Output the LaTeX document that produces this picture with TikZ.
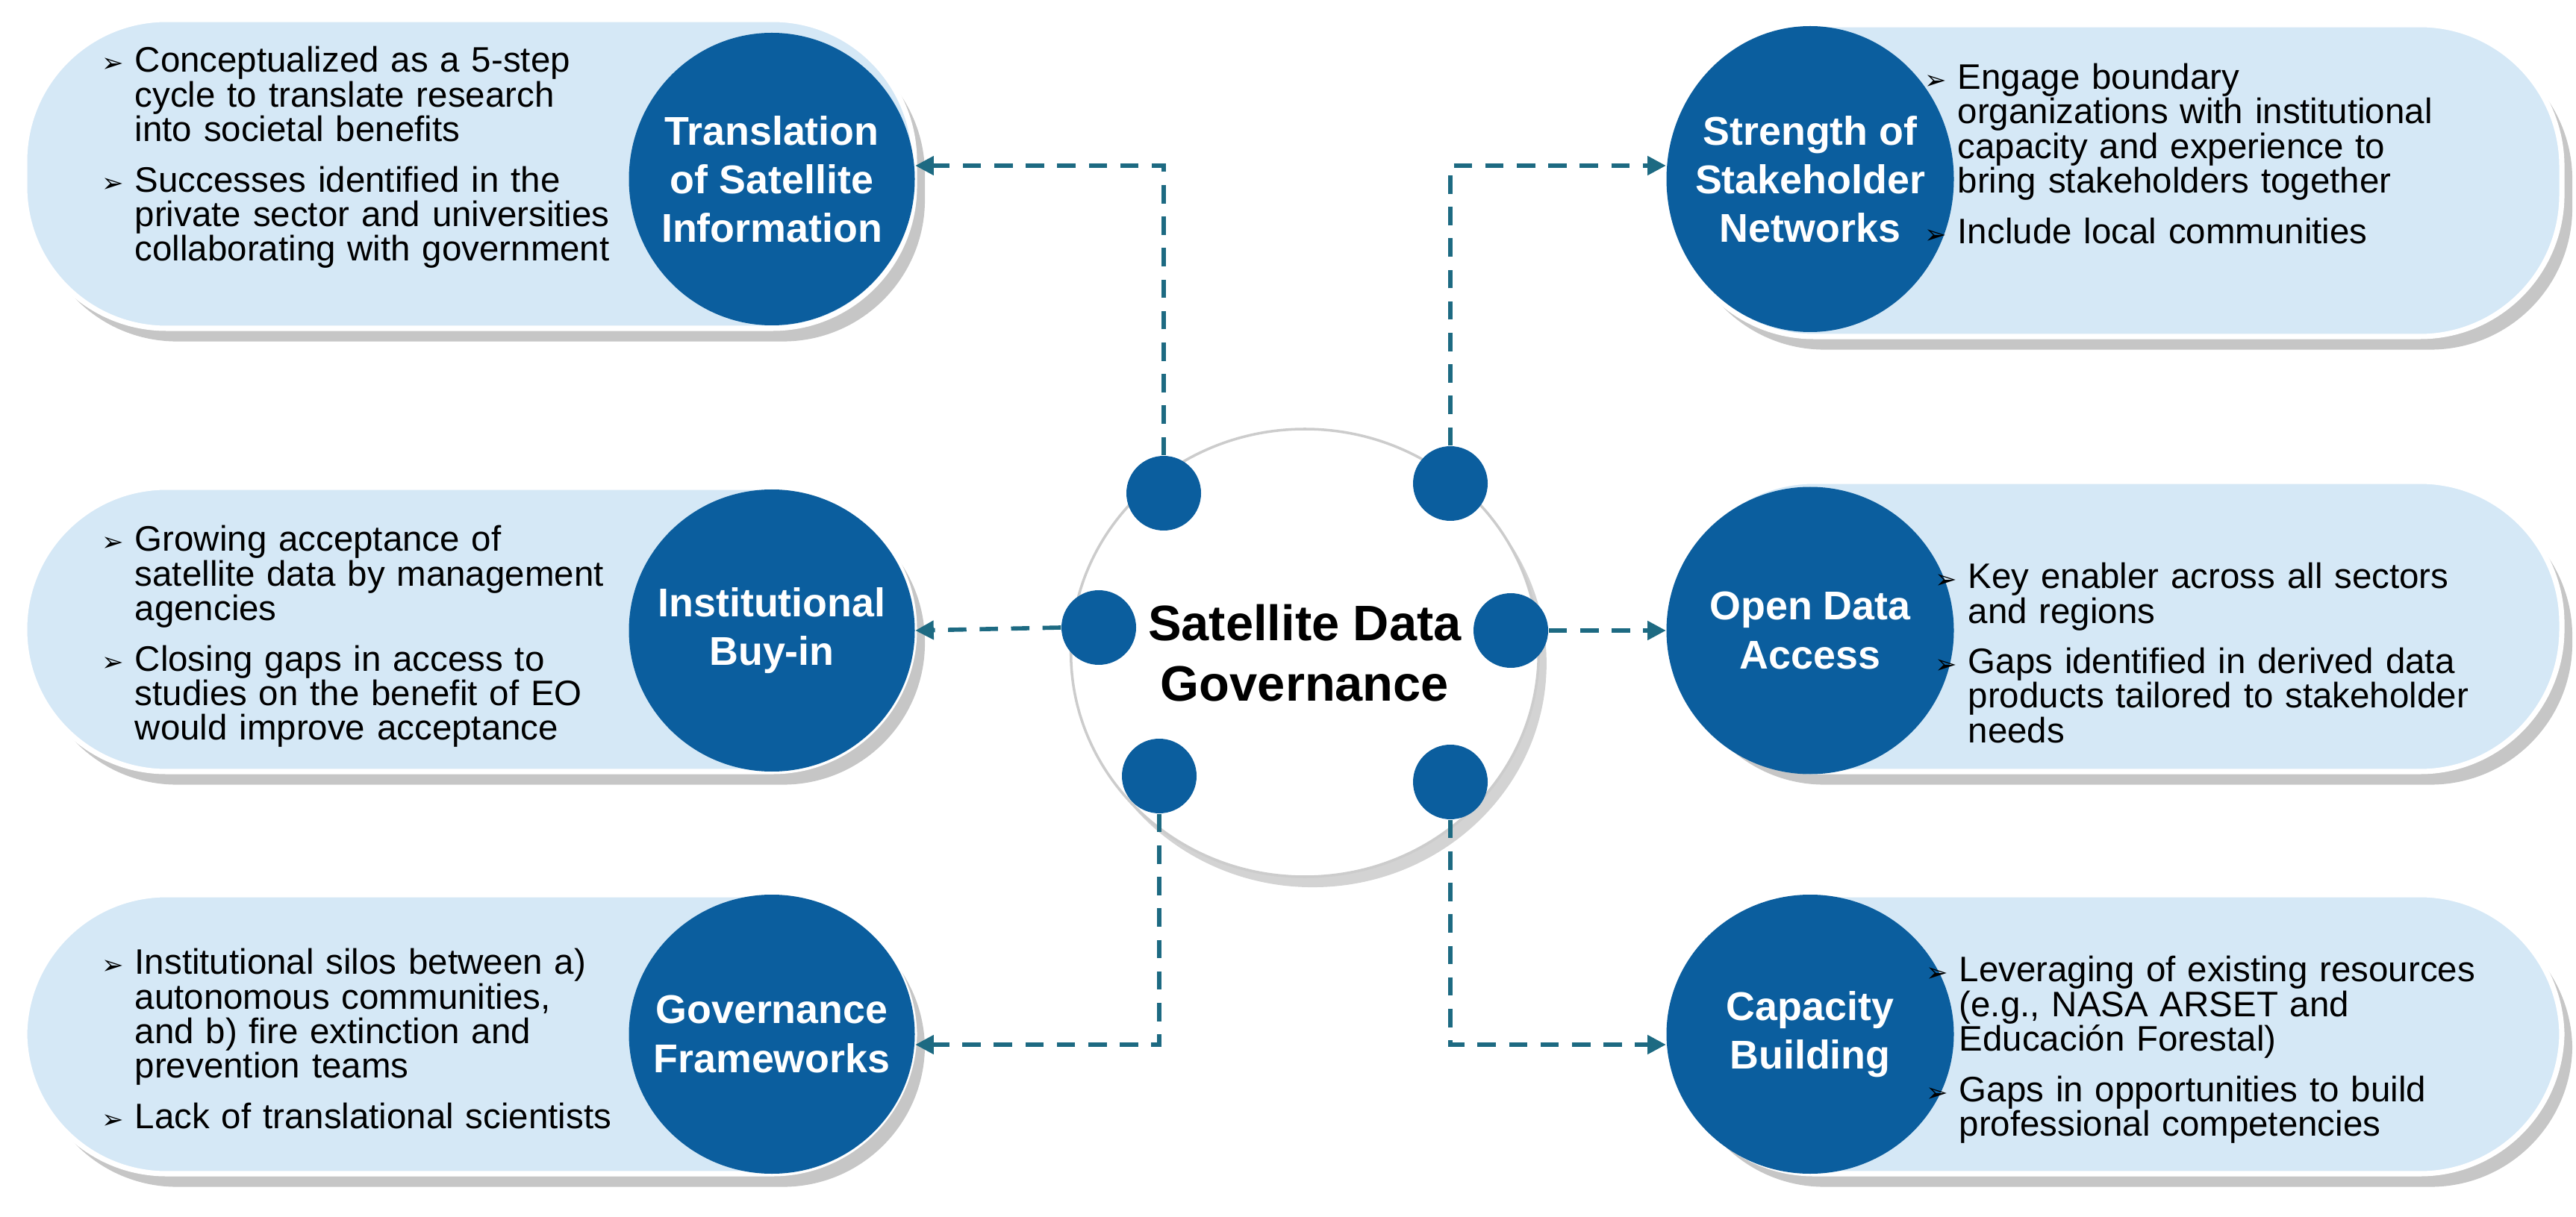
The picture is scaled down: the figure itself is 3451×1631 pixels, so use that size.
\documentclass[tikz,border=0pt]{standalone}
\usepackage{fontspec}
\setmainfont{Liberation Sans}
\newfontfamily\djv{DejaVu Sans}
\usetikzlibrary{shadows,arrows.meta,shapes.geometric}
\definecolor{dblue}{HTML}{0B5E9E}
\definecolor{pill}{HTML}{D5E8F6}
\definecolor{conn}{HTML}{1D6A82}
\newcommand{\bul}[1]{\par\noindent\hangindent=0.44cm\hangafter=1\makebox[0.44cm][l]{\djv\normalsize ➢}#1\par}
\tikzset{
 pillbox/.style={draw=white,line width=2pt,fill=pill,rounded corners=190*0.01cm,drop shadow={shadow xshift=4pt,shadow yshift=-5pt,opacity=.45}},
 dcirc/.style={ellipse,fill=dblue,inner sep=0pt},
 dtitle/.style={text=white,font=\bfseries\fontsize{15.3}{18.5}\selectfont,align=center},
 dot/.style={circle,fill=dblue,minimum size=100*0.01cm,inner sep=0pt},
 body/.style={anchor=west,text width=8cm,font=\fontsize{13.5}{13.2}\selectfont,inner sep=0pt},
 conn/.style={draw=conn,line width=1.6pt,dashed,dash pattern=on 7pt off 5pt,-{Triangle[length=7pt,width=7pt]}}
}
\begin{document}
\begin{tikzpicture}[x=0.01cm,y=-0.01cm]
\useasboundingbox (0,0) rectangle (3451,1631);
% pills
\draw[pillbox] (33,26) rectangle (1225,440);
\draw[pillbox] (33,653) rectangle (1225,1034);
\draw[pillbox] (33,1199) rectangle (1225,1573);
\draw[pillbox] (2240,33) rectangle (3432,451);
\draw[pillbox] (2240,645) rectangle (3432,1034);
\draw[pillbox] (2240,1199) rectangle (3432,1573);
% dark circles
\node[dcirc,minimum width=383*0.01cm,minimum height=392*0.01cm] (c1) at (1034,240) {};
\node[dcirc,minimum width=383*0.01cm,minimum height=378*0.01cm] (c2) at (1034,845) {};
\node[dcirc,minimum width=383*0.01cm,minimum height=374*0.01cm] (c3) at (1034,1386) {};
\node[dcirc,minimum width=385*0.01cm,minimum height=410*0.01cm] (c4) at (2425,240) {};
\node[dcirc,minimum width=385*0.01cm,minimum height=385*0.01cm] (c5) at (2425,845) {};
\node[dcirc,minimum width=385*0.01cm,minimum height=374*0.01cm] (c6) at (2425,1386) {};
\node[dtitle] (l1) at (c1) {Translation\\of Satellite\\Information};
\node[dtitle] (l2) at (c2) {Institutional\\Buy-in};
\node[dtitle] (l3) at (c3) {Governance\\Frameworks};
\node[dtitle] (l4) at (c4) {Strength of\\Stakeholder\\Networks};
\node[dtitle] (l5) at (c5) {Open Data\\Access};
\node[dtitle] (l6) at (c6) {Capacity\\Building};
% body texts
\node[body] (t1) at (136,205) {\bul{Conceptualized as a 5-step\newline cycle to translate research\newline into societal benefits}\vspace{6pt}\bul{Successes identified in the\newline private sector and universities\newline collaborating with government}};
\node[body] (t2) at (136,847) {\bul{Growing acceptance of\newline satellite data by management\newline agencies}\vspace{6pt}\bul{Closing gaps in access to\newline studies on the benefit of EO\newline would improve acceptance}};
\node[body] (t3) at (136,1386) {\bul{Institutional silos between a)\newline autonomous communities,\newline and b) fire extinction and\newline prevention teams}\vspace{6pt}\bul{Lack of translational scientists}};
\node[body] (t4) at (2578,200) {\bul{Engage boundary\newline organizations with institutional\newline capacity and experience to\newline bring stakeholders together}\vspace{6pt}\bul{Include local communities}};
\node[body] (t5) at (2592,869) {\bul{Key enabler across all sectors\newline and regions}\vspace{6pt}\bul{Gaps identified in derived data\newline products tailored to stakeholder\newline needs}};
\node[body] (t6) at (2580,1401) {\bul{Leveraging of existing resources\newline (e.g., NASA ARSET and\newline Educación Forestal)}\vspace{6pt}\bul{Gaps in opportunities to build\newline professional competencies}};
% center
\node[ellipse,draw=black!20,line width=1pt,fill=white,minimum width=556*0.01cm,minimum height=600*0.01cm,drop shadow={shadow xshift=3pt,shadow yshift=-4pt,opacity=.35},align=center,font=\bfseries\fontsize{19}{23}\selectfont] (ctr) at (1748,875) {Satellite Data\\Governance};
\node[dot] (d1) at (1559,661) {};
\node[dot] (d2) at (1943,648) {};
\node[dot] (d3) at (1472,841) {};
\node[dot] (d4) at (2024,845) {};
\node[dot] (d5) at (1553,1040) {};
\node[dot] (d6) at (1943,1048) {};
% connectors
\coordinate (k1) at (1559,222);
\coordinate (k2) at (1943,222);
\coordinate (k5) at (1553,1400);
\coordinate (k6) at (1943,1400);
\draw[conn] (d1.north) -- (k1) -- (c1.east |- k1);
\draw[conn] (d2.north) -- (k2) -- (c4.west |- k2);
\draw[conn] (d3.west) -- (c2.east);
\draw[conn] (d4.east) -- (c5.west);
\draw[conn] (d5.south) -- (k5) -- (c3.east |- k5);
\draw[conn] (d6.south) -- (k6) -- (c6.west |- k6);
\end{tikzpicture}
\end{document}
